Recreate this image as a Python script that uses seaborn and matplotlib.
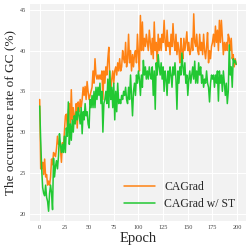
import numpy as np
import pandas as pd
import seaborn as sns
from matplotlib import pyplot as plt

# occurrence rate of GC (%) per epoch
cagrad = [
    34.0, 25.5, 25.5, 26.3, 24.8, 26.7, 24.5, 24.8, 23.5, 24.0,
    23.5, 24.5, 26.7, 26.0, 27.5, 27.3, 27.0, 28.0, 29.5, 28.5,
    28.7, 28.0, 26.3, 28.7, 28.0, 30.0, 32.0, 32.2, 30.5, 32.5,
    33.5, 31.0, 35.2, 31.5, 33.0, 31.5, 32.0, 33.5, 30.5, 33.7,
    32.5, 34.0, 33.0, 34.0, 35.5, 34.5, 35.6, 34.0, 36.2, 35.0,
    34.0, 34.5, 35.0, 35.5, 37.5, 36.0, 39.0, 37.0, 36.5, 37.0,
    36.5, 37.0, 36.5, 37.5, 34.0, 37.5, 36.0, 38.0, 37.0, 39.0,
    40.4, 36.0, 35.0, 36.5, 37.5, 36.0, 37.5, 38.0, 37.0, 38.5,
    37.5, 39.0, 37.5, 38.0, 40.0, 39.0, 38.5, 41.0, 38.0, 39.0,
    42.0, 38.5, 40.0, 37.5, 39.5, 38.0, 39.5, 40.0, 38.5, 42.0,
    39.5, 37.5, 44.3, 40.0, 43.5, 40.0, 41.5, 40.5, 42.0, 41.0,
    40.0, 42.5, 41.0, 39.5, 41.5, 39.0, 43.5, 40.0, 41.0, 38.5,
    42.0, 40.0, 41.5, 40.0, 42.0, 41.0, 43.7, 41.0, 40.0, 42.5,
    40.5, 41.0, 39.5, 42.0, 40.5, 43.3, 41.0, 40.0, 42.0, 39.5,
    41.0, 40.0, 38.5, 41.5, 40.0, 39.0, 41.5, 40.0, 41.0, 42.3,
    40.0, 41.0, 39.5, 40.0, 41.5, 40.0, 44.5, 41.0, 40.5, 42.0,
    40.0, 39.5, 42.0, 40.0, 41.0, 39.5, 42.0, 40.0, 39.0, 40.5,
    42.2, 38.5, 40.0, 39.0, 40.5, 41.0, 42.0, 40.5, 43.0, 41.0,
    42.5, 40.0, 43.7, 41.0, 43.7, 41.5, 39.5, 41.0, 40.0, 41.0,
    40.0, 42.0, 41.5, 40.0, 41.5, 39.0, 39.5, 38.0, 39.0, 38.3,
]
cagrad_st = [
    33.2, 29.0, 25.5, 23.2, 22.5, 22.2, 23.5, 22.0, 21.5, 20.3,
    22.5, 23.5, 22.5, 20.5, 26.8, 24.5, 25.8, 26.5, 25.5, 27.0,
    29.8, 28.5, 27.5, 28.5, 27.5, 29.5, 27.5, 30.5, 29.5, 33.7,
    28.5, 31.0, 29.0, 31.5, 30.0, 32.0, 31.0, 32.5, 31.5, 33.0,
    32.0, 31.0, 33.0, 29.8, 32.5, 31.5, 33.5, 32.0, 32.5, 31.0,
    30.5, 34.0, 33.0, 34.5, 33.0, 35.0, 33.0, 35.5, 34.0, 35.5,
    34.5, 36.0, 33.5, 35.0, 30.0, 33.5, 34.0, 35.0, 33.5, 36.5,
    33.0, 37.5, 34.0, 35.5, 33.0, 36.0, 31.5, 35.0, 32.5, 36.0,
    33.5, 34.0, 33.5, 34.5, 34.0, 35.0, 34.5, 35.5, 34.0, 33.5,
    35.5, 34.0, 37.0, 34.5, 32.0, 35.0, 36.0, 34.5, 37.0, 36.0,
    37.5, 36.5, 34.5, 37.0, 35.5, 38.8, 37.0, 38.0, 36.5, 37.5,
    36.5, 38.0, 37.0, 36.5, 38.0, 34.5, 37.5, 32.8, 38.5, 37.0,
    39.5, 38.0, 37.0, 38.5, 36.5, 38.0, 35.0, 37.5, 36.5, 34.5,
    37.5, 36.0, 38.0, 37.0, 35.5, 38.0, 37.0, 38.5, 36.5, 32.8,
    37.5, 36.0, 38.0, 37.0, 39.7, 38.0, 37.0, 38.5, 36.0, 37.0,
    34.5, 36.5, 37.5, 36.0, 37.0, 38.0, 36.5, 38.7, 36.0, 37.5,
    36.0, 38.5, 37.0, 38.0, 36.0, 37.0, 35.5, 36.5, 36.0, 37.5,
    36.0, 35.5, 33.7, 36.0, 37.0, 36.5, 37.0, 35.5, 37.0, 36.0,
    37.5, 33.8, 37.5, 36.0, 37.0, 35.0, 37.5, 36.0, 34.5, 36.0,
    33.5, 35.0, 40.7, 37.0, 38.0, 35.5, 39.0, 38.5, 38.8, 38.3,
]
epochs = np.arange(len(cagrad))

df = pd.DataFrame({
    "Epoch": np.concatenate([epochs, epochs]),
    "rate": cagrad + cagrad_st,
    "method": ["CAGrad"] * len(cagrad) + ["CAGrad w/ ST"] * len(cagrad_st),
})

sns.set_style("darkgrid", {"axes.facecolor": "#f2f2f2", "grid.color": "white"})
plt.rcParams["font.family"] = ["Liberation Serif", "DejaVu Serif"]

fig = plt.figure(figsize=(2.49, 2.49), dpi=100)
ax = fig.add_axes([0.12, 0.112, 0.868, 0.872])
sns.lineplot(data=df, x="Epoch", y="rate", hue="method",
             palette=["#ff8214", "#22c833"], linewidth=1.1, ax=ax)

ax.set_xticks([0, 25, 50, 75, 100, 125, 150, 175, 200])
ax.set_yticks([20, 25, 30, 35, 40, 45])
ax.tick_params(labelsize=4.5, colors="#444444", length=0, pad=3)
ax.set_xlabel("Epoch", fontsize=10.5, labelpad=1)
ax.set_ylabel("The occurrence rate of GC (%)", fontsize=9.5, labelpad=2)
ax.grid(True, color="white", linewidth=0.8)
for s in ax.spines.values():
    s.set_visible(False)

ax.legend(title=None, loc="lower right", frameon=False, fontsize=8.5,
          handlelength=2.6, borderaxespad=0.5, labelspacing=0.45)

plt.savefig("out.png", dpi=100)
plt.close()
